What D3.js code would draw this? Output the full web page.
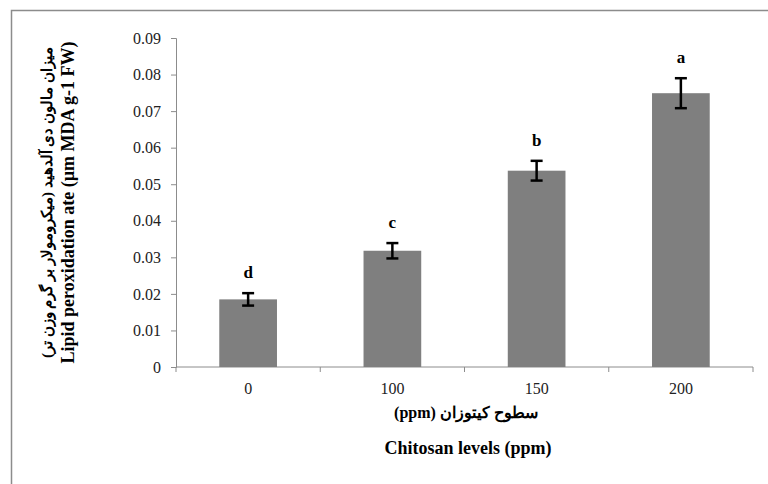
<!DOCTYPE html>
<html>
<head>
<meta charset="utf-8">
<script src="https://cdn.jsdelivr.net/npm/d3@7"></script>
<style>
  body { margin: 0; background: #fff; }
  text { font-family: "Liberation Serif", "Times New Roman", serif; }
</style>
</head>
<body>
<div id="chart"></div>
<script>
// dados
const levels = ["0", "100", "150", "200"];
const mdaMeans = [0.0185, 0.0318, 0.0537, 0.0749];
const mdaErrors = [0.0017, 0.0021, 0.0027, 0.0041];
const groupLetters = ["d", "c", "b", "a"];
const yTicks = [0, 0.01, 0.02, 0.03, 0.04, 0.05, 0.06, 0.07, 0.08, 0.09];

const width = 768;
const height = 484;
const margin = { left: 176, right: 15, top: 38, bottom: 117 };

const svg = d3.select("#chart")
  .append("svg")
  .attr("width", width)
  .attr("height", height);

// moldura cinza (só topo e esquerda aparecem)
svg.append("path")
  .attr("d", `M11.5,${height} V10.5 H${width}`)
  .attr("fill", "none")
  .attr("stroke", "#8c8c8c")
  .attr("stroke-width", 1.5);

const x = d3.scaleBand()
  .domain(levels)
  .range([margin.left, width - margin.right])
  .paddingInner(0.6)
  .paddingOuter(0.3);

const y = d3.scaleLinear()
  .domain([0, 0.09])
  .range([height - margin.bottom, margin.top]);

// eixo Y
const yAxis = svg.append("g")
  .attr("transform", `translate(${margin.left},0)`)
  .call(d3.axisLeft(y).tickValues(yTicks).tickSize(5).tickPadding(10)
    .tickFormat(d => d === 0 ? "0" : d3.format(".2f")(d)));

yAxis.select(".domain").attr("stroke", "#8c8c8c");
yAxis.selectAll(".tick line").attr("stroke", "#8c8c8c");
yAxis.selectAll(".tick text")
  .attr("font-size", 16)
  .attr("fill", "#222")
  .style("font-family", "Liberation Serif, serif");

// eixo X com ticks nas bordas das categorias
const bounds = levels.map(l => x(l) - x.step() * x.paddingInner() / 2);
bounds.push(width - margin.right);
const xAxis = svg.append("g")
  .attr("transform", `translate(0,${height - margin.bottom})`);
xAxis.append("line")
  .attr("x1", margin.left).attr("x2", width - margin.right)
  .attr("stroke", "#8c8c8c");
xAxis.selectAll(".tk")
  .data(bounds)
  .enter()
  .append("line")
  .attr("x1", d => d).attr("x2", d => d)
  .attr("y1", 0).attr("y2", 5)
  .attr("stroke", "#8c8c8c");
xAxis.selectAll(".lbl")
  .data(levels)
  .enter()
  .append("text")
  .attr("x", d => x(d) + x.bandwidth() / 2)
  .attr("y", 27)
  .attr("text-anchor", "middle")
  .attr("font-size", 16)
  .attr("fill", "#222")
  .text(d => d);

// barras
svg.selectAll(".bar")
  .data(mdaMeans)
  .enter()
  .append("rect")
  .attr("x", (d, i) => x(levels[i]))
  .attr("y", d => y(d))
  .attr("width", x.bandwidth())
  .attr("height", d => y(0) - y(d))
  .attr("fill", "#7f7f7f");

// barras de erro
const cap = 6;
const err = svg.append("g").attr("stroke", "#000").attr("stroke-width", 2.5);
mdaMeans.forEach((m, i) => {
  const cx = x(levels[i]) + x.bandwidth() / 2;
  const top = y(m + mdaErrors[i]);
  const bot = y(m - mdaErrors[i]);
  err.append("line").attr("x1", cx).attr("x2", cx).attr("y1", top).attr("y2", bot);
  err.append("line").attr("x1", cx - cap).attr("x2", cx + cap).attr("y1", top).attr("y2", top);
  err.append("line").attr("x1", cx - cap).attr("x2", cx + cap).attr("y1", bot).attr("y2", bot);
});

// letras de significância
svg.selectAll(".letter")
  .data(groupLetters)
  .enter()
  .append("text")
  .attr("x", (d, i) => x(levels[i]) + x.bandwidth() / 2)
  .attr("y", (d, i) => y(mdaMeans[i] + mdaErrors[i]) - 15)
  .attr("text-anchor", "middle")
  .attr("font-size", 17)
  .attr("font-weight", "bold")
  .text(d => d);

// títulos do eixo X
svg.append("text")
  .attr("x", 466)
  .attr("y", 418)
  .attr("text-anchor", "middle")
  .attr("direction", "rtl")
  .attr("font-size", 16)
  .attr("font-weight", "bold")
  .text("سطوح کیتوزان (ppm)");
svg.append("text")
  .attr("x", 468)
  .attr("y", 454)
  .attr("text-anchor", "middle")
  .attr("font-size", 18)
  .attr("font-weight", "bold")
  .text("Chitosan levels (ppm)");

// títulos do eixo Y (rotacionados)
const yMid = (y(0) + y(0.09)) / 2;
svg.append("text")
  .attr("transform", `translate(52,${yMid}) rotate(-90)`)
  .attr("text-anchor", "middle")
  .attr("direction", "rtl")
  .attr("font-size", 15)
  .attr("font-weight", "bold")
  .text("میزان مالون دی آلدهید (میکرومولار بر گرم وزن تر)");
svg.append("text")
  .attr("transform", `translate(74,${yMid}) rotate(-90)`)
  .attr("text-anchor", "middle")
  .attr("font-size", 18)
  .attr("font-weight", "bold")
  .text("Lipid peroxidation ate (µm MDA g-1 FW)");
</script>
</body>
</html>
